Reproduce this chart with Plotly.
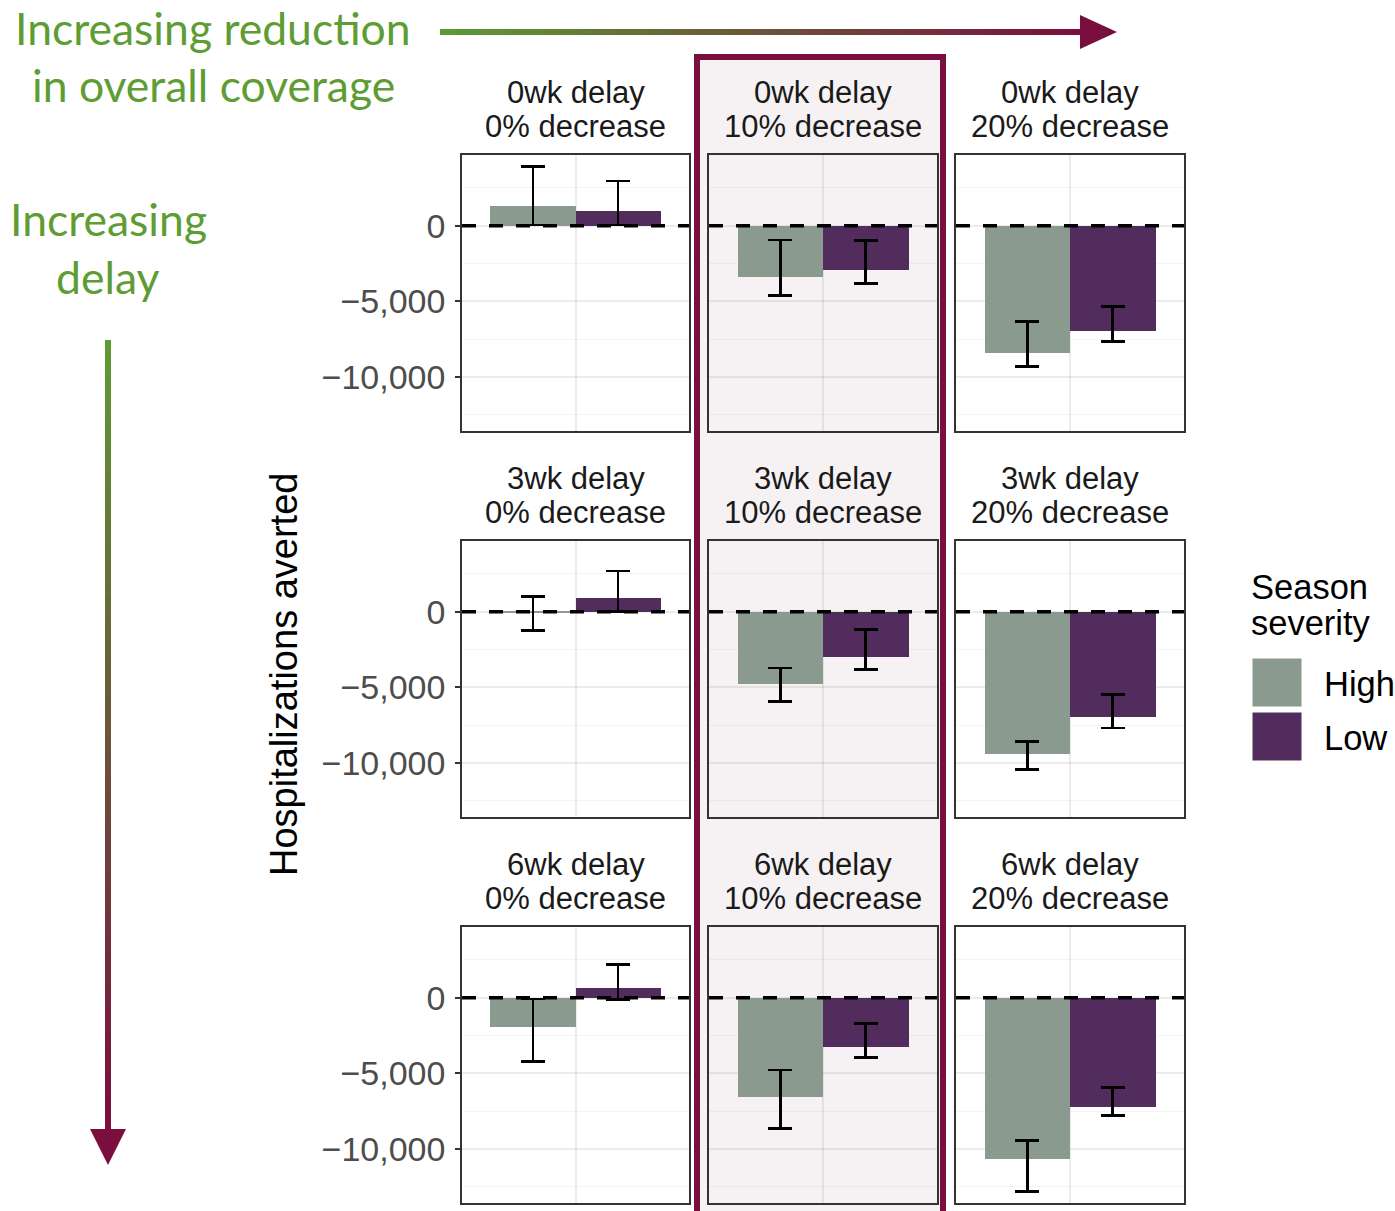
import plotly.graph_objects as go

# ---- data: hospitalizations averted by delay (rows) x coverage decrease (cols)
delays = ["0wk", "3wk", "6wk"]
decreases = ["0%", "10%", "20%"]
severity = ["High", "Low"]

high_mean = [[1316, -3355, -8400], [-80, -4803, -9408], [-1947, -6556, -10680]]
high_upper = [[3900, -941, -6316], [1007, -3704, -8553], [-86, -4776, -9430]]
high_lower = [[50, -4625, -9320], [-1250, -5921, -10415], [-4210, -8638, -12785]]

low_mean = [[987, -2895, -6974], [900, -2961, -6974], [618, -3224, -7237]]
low_upper = [[2960, -987, -5329], [2697, -1184, -5480], [2197, -1711, -5941]]
low_lower = [[60, -3794, -7632], [0, -3794, -7676], [-130, -3947, -7763]]

y_ticks = [0, -5000, -10000]
y_minor = [2500, -2500, -7500, -12500]

# ---- styling
W, H = 1395, 1211
C_HIGH = "#8b9a8f"
C_LOW = "#532c5e"
GREEN = (94, 154, 52)
MAROON = (122, 14, 62)
GREEN_HEX = "#5e9c34"
MAROON_HEX = "#7a0e3e"
TXT = "Liberation Sans"

col_px = [(462, 689), (709, 937), (956, 1184)]
row_px = [(155, 431), (541, 817), (927, 1203)]


def px_x(x):
    return x / W


def px_y(y):
    return 1 - y / H


fig = go.Figure()
layout = dict(
    width=W, height=H, margin=dict(l=0, r=0, t=0, b=0),
    paper_bgcolor="white", plot_bgcolor="rgba(0,0,0,0)",
    showlegend=False, bargap=0, font=dict(family=TXT, color="#1a1a1a"),
)
shapes = []
annotations = []

for r in range(3):
    for c in range(3):
        k = r * 3 + c + 1
        sfx = "" if k == 1 else str(k)
        xa, ya = "x" + sfx, "y" + sfx
        for name, mean, up, lo, color, xpos in [
            ("High", high_mean, high_upper, high_lower, C_HIGH, -0.225),
            ("Low", low_mean, low_upper, low_lower, C_LOW, 0.225),
        ]:
            m = mean[r][c]
            fig.add_trace(go.Bar(
                x=[xpos], y=[m], width=[0.45], name=name,
                marker=dict(color=color, line=dict(width=0)),
                error_y=dict(type="data", symmetric=False,
                             array=[up[r][c] - m], arrayminus=[m - lo[r][c]],
                             color="black", thickness=2.7, width=12),
                xaxis=xa, yaxis=ya,
            ))
        x0, x1 = col_px[c]
        y0, y1 = row_px[r]
        layout["xaxis" + sfx] = dict(
            domain=[px_x(x0), px_x(x1)], range=[-0.6, 0.6], anchor=ya,
            tickvals=[0], showticklabels=False, ticks="",
            showgrid=True, gridcolor="rgba(0,0,0,0.075)", gridwidth=2.2,
            zeroline=False, showline=True, mirror=True,
            linecolor="#333333", linewidth=1.6, fixedrange=True,
        )
        layout["yaxis" + sfx] = dict(
            domain=[px_y(y1), px_y(y0)], range=[-13560, 4680], anchor=xa,
            tickvals=y_ticks, tickformat=",", showticklabels=(c == 0),
            ticks="outside" if c == 0 else "", ticklen=5, tickwidth=1.6,
            tickcolor="#333333", ticklabelstandoff=3,
            tickfont=dict(family=TXT, size=34, color="#4d4d4d"),
            showgrid=True, gridcolor="rgba(0,0,0,0.075)", gridwidth=2.2,
            minor=dict(tickvals=y_minor, showgrid=True,
                       gridcolor="rgba(0,0,0,0.045)", gridwidth=1.1),
            zeroline=False, showline=True, mirror=True,
            linecolor="#333333", linewidth=1.6, fixedrange=True,
        )
        # dashed reference line at zero
        shapes.append(dict(
            type="line", xref=xa + " domain", yref=ya, x0=0, x1=1, y0=0, y1=0,
            line=dict(color="black", width=3.4, dash="14px,13px"), layer="above",
        ))
        # facet strip labels
        cx = (x0 + x1) / 2
        for line_txt, dy in [(f"{delays[r]} delay", 92), (f"{decreases[c]} decrease", 126)]:
            annotations.append(dict(
                text=line_txt, x=px_x(cx), y=px_y(y0 - 155 + dy), xref="paper",
                yref="paper", xanchor="center", yanchor="middle", showarrow=False,
                font=dict(family=TXT, size=31, color="#1a1a1a"),
            ))

# highlighted middle column
shapes.insert(0, dict(
    type="rect", xref="paper", yref="paper",
    x0=px_x(697), x1=px_x(943), y0=px_y(1216), y1=px_y(57),
    fillcolor="#f6f2f3", line=dict(color=MAROON_HEX, width=6), layer="below",
))


def lerp(t):
    return "rgb(%d,%d,%d)" % tuple(round(a + (b - a) * t) for a, b in zip(GREEN, MAROON))


# gradient arrows built from short segments
N = 80
hx0, hx1, hy = 440, 1084, 32
for i in range(N):
    a = hx0 + (hx1 - hx0) * i / N
    b = hx0 + (hx1 - hx0) * (i + 1) / N + 1
    shapes.append(dict(type="line", xref="paper", yref="paper",
                       x0=px_x(a), x1=px_x(b), y0=px_y(hy), y1=px_y(hy),
                       line=dict(color=lerp(i / (N - 1)), width=6)))
shapes.append(dict(type="path", xref="paper", yref="paper",
                   path="M {} {} L {} {} L {} {} Z".format(
                       px_x(1080), px_y(15), px_x(1117), px_y(32), px_x(1080), px_y(49)),
                   fillcolor=MAROON_HEX, line=dict(width=0)))

vx, vy0, vy1 = 108, 340, 1132
for i in range(N):
    a = vy0 + (vy1 - vy0) * i / N
    b = vy0 + (vy1 - vy0) * (i + 1) / N + 1
    shapes.append(dict(type="line", xref="paper", yref="paper",
                       x0=px_x(vx), x1=px_x(vx), y0=px_y(a), y1=px_y(b),
                       line=dict(color=lerp(i / (N - 1)), width=6)))
shapes.append(dict(type="path", xref="paper", yref="paper",
                   path="M {} {} L {} {} L {} {} Z".format(
                       px_x(90), px_y(1129), px_x(108), px_y(1165), px_x(126), px_y(1129)),
                   fillcolor=MAROON_HEX, line=dict(width=0)))

# direction captions
for txt, x, y in [("Increasing reduction", 213, 28), ("in overall coverage", 213, 85),
                  ("Increasing", 108, 218), ("delay", 108, 276)]:
    annotations.append(dict(text=txt, x=px_x(x), y=px_y(y), xref="paper", yref="paper",
                            xanchor="center", yanchor="middle", showarrow=False,
                            font=dict(family="Lato", size=44.5, color=GREEN_HEX)))

# y axis title
annotations.append(dict(text="Hospitalizations averted", x=px_x(284), y=px_y(675),
                        xref="paper", yref="paper", textangle=-90, showarrow=False,
                        xanchor="center", yanchor="middle",
                        font=dict(family=TXT, size=38, color="black")))

# legend
for txt, y in [("Season", 587), ("severity", 623)]:
    annotations.append(dict(text=txt, x=px_x(1249), y=px_y(y), xref="paper", yref="paper",
                            xanchor="left", yanchor="middle", showarrow=False,
                            font=dict(family=TXT, size=34.5, color="black")))
for name, color, ytop in [(severity[0], C_HIGH, 658), (severity[1], C_LOW, 712)]:
    shapes.append(dict(type="rect", xref="paper", yref="paper",
                       x0=px_x(1252), x1=px_x(1302), y0=px_y(ytop + 49), y1=px_y(ytop),
                       fillcolor=color, line=dict(color="white", width=1)))
    annotations.append(dict(text=name, x=px_x(1322), y=px_y(ytop + 26), xref="paper",
                            yref="paper", xanchor="left", yanchor="middle", showarrow=False,
                            font=dict(family=TXT, size=34.5, color="black")))

layout["shapes"] = shapes
layout["annotations"] = annotations
fig.update_layout(**layout)
fig.write_html("out.html")
